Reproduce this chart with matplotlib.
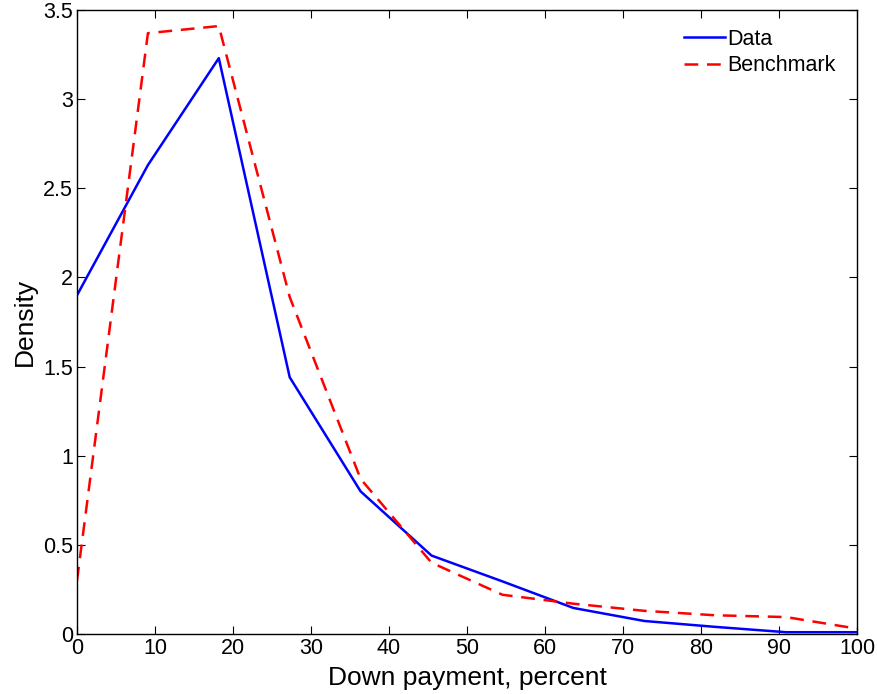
import matplotlib
matplotlib.use("Agg")
import matplotlib.pyplot as plt
import numpy as np

plt.rcParams['font.family'] = ['Liberation Sans', 'DejaVu Sans']

x = [0, 9.09, 18.18, 27.27, 36.36, 45.45, 54.55, 63.64, 72.73, 81.82, 90.91, 100]
data = [1.90, 2.63, 3.23, 1.44, 0.80, 0.44, 0.295, 0.146, 0.073, 0.04, 0.01, 0.01]
benchmark = [0.30, 3.37, 3.41, 1.89, 0.87, 0.40, 0.22, 0.17, 0.13, 0.105, 0.095, 0.03]

xticks = [0, 10, 20, 30, 40, 50, 60, 70, 80, 90, 100]
yticks = [0, 0.5, 1, 1.5, 2, 2.5, 3, 3.5]
yticklabels = ['0', '0.5', '1', '1.5', '2', '2.5', '3', '3.5']

fig = plt.figure(figsize=(8.77, 6.94), dpi=100)
ax = fig.add_axes([77/877, 60/694, 780/877, 624/694])

ax.plot(x, data, color='#0000ff', lw=1.8, label='Data')
ax.plot(x, benchmark, color='#ff0000', lw=1.8, ls=(0, (5.5, 3.5)), label='Benchmark')

ax.set_xlim(0, 100)
ax.set_ylim(0, 3.5)
ax.set_xticks(xticks)
ax.set_yticks(yticks)
ax.set_yticklabels(yticklabels)
ax.tick_params(direction='in', top=True, right=True, length=6, width=0.8,
               labelsize=15.5, pad=3)
for s in ax.spines.values():
    s.set_linewidth(1.0)

ax.set_xlabel('Down payment, percent', fontsize=19, labelpad=5)
ax.set_ylabel('Density', fontsize=19, labelpad=4)

ax.legend(loc='upper right', bbox_to_anchor=(1.003, 1.008), frameon=False,
          fontsize=15.5, handlelength=1.9, handletextpad=0.1,
          borderaxespad=0.7, labelspacing=0.25)

fig.savefig('out.png', dpi=100)
